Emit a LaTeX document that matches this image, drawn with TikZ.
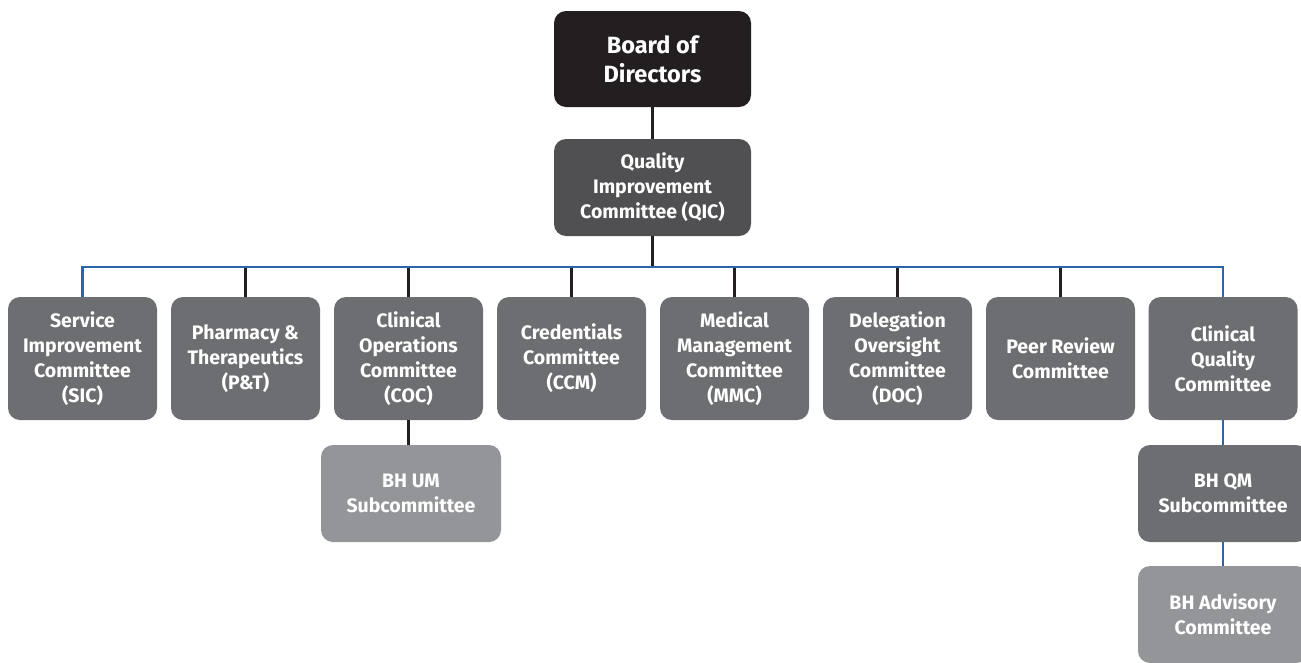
\documentclass[tikz,border=0pt]{standalone}
\usepackage{fontspec}
\setmainfont{Fira Sans}
\definecolor{boardc}{HTML}{231F20}
\definecolor{qicc}{HTML}{505052}
\definecolor{midc}{HTML}{6D6E71}
\definecolor{lightc}{HTML}{939598}
\definecolor{bluec}{HTML}{2B66A8}
\begin{document}
\begin{tikzpicture}[x=1pt,y=-1pt,
  box/.style={rounded corners=12pt, inner sep=0pt, align=center, text=white,
    font=\bfseries\fontsize{19.5}{25}\selectfont},
  rowbox/.style={box, fill=midc, minimum width=149pt, minimum height=123pt},
  subbox/.style={box, minimum height=97pt},
  blk/.style={draw=boardc, line width=2.2pt},
  blu/.style={draw=bluec, line width=2.2pt}]
\useasboundingbox (0,0) rectangle (1301,662);
\node[box, fill=boardc, minimum width=197pt, minimum height=96pt, font=\bfseries\fontsize{23.5}{29}\selectfont] (board) at (652.5,59) {Board of\\Directors};
\node[box, fill=qicc, minimum width=197pt, minimum height=97pt] (qic) at (652.5,187.5) {Quality\\Improvement\\Committee (QIC)};
\coordinate (bar) at (652.5,267);
\node[rowbox] (sic) at (82.5,358.5) {Service\\Improvement\\Committee\\(SIC)};
\node[rowbox] (pt) at (245.5,358.5) {Pharmacy \&\\Therapeutics\\(P\&T)};
\node[rowbox] (coc) at (408.5,358.5) {Clinical\\Operations\\Committee\\(COC)};
\node[rowbox] (ccm) at (571.5,358.5) {Credentials\\Committee\\(CCM)};
\node[rowbox] (mmc) at (734.5,358.5) {Medical\\Management\\Committee\\(MMC)};
\node[rowbox] (doc) at (897.5,358.5) {Delegation\\Oversight\\Committee\\(DOC)};
\node[rowbox] (prc) at (1060.5,358.5) {Peer Review\\Committee};
\node[rowbox] (cqc) at (1223,358.5) {Clinical\\Quality\\Committee};
\node[subbox, fill=lightc, minimum width=180pt] (bhum) at (411,493.5) {BH UM\\Subcommittee};
\node[subbox, fill=midc, minimum width=170pt] (bhqm) at (1223,493.5) {BH QM\\Subcommittee};
\node[subbox, fill=lightc, minimum width=170pt] (bhadv) at (1223,614.5) {BH Advisory\\Committee};
\draw[blk] (board.south) -- (qic.north);
\draw[blk] (qic.south) -- (bar);
\foreach \n in {pt,coc,ccm,mmc,doc,prc}{\draw[blk] (\n.north) -- (\n.north |- bar);}
\draw[blk] (coc.south) -- (coc.south |- bhum.north);
\draw[blu] (sic.north) |- (bar) -| (cqc.north);
\draw[blu] (cqc.south) -- (bhqm.north);
\draw[blu] (bhqm.south) -- (bhadv.north);
\end{tikzpicture}
\end{document}
